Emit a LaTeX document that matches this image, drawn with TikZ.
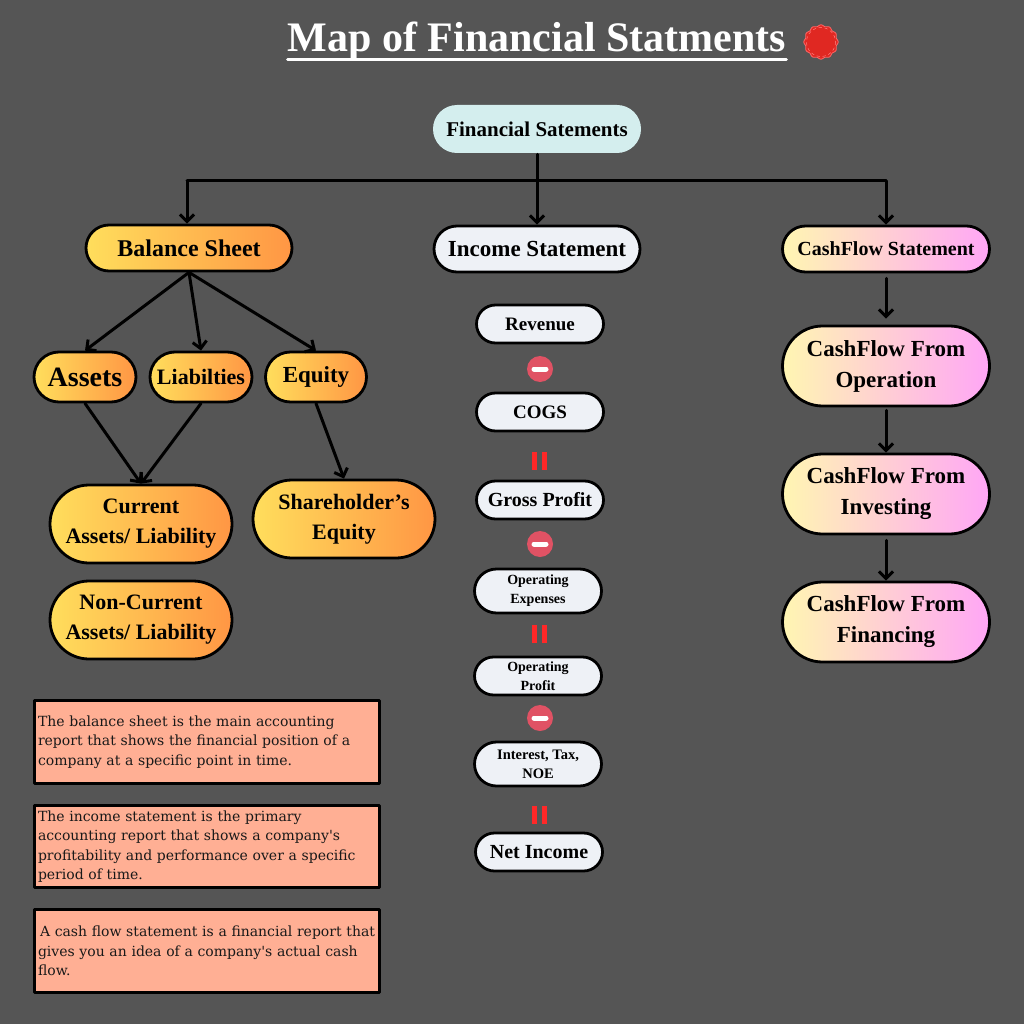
\documentclass[tikz,border=0pt]{standalone}
\usepackage{fontspec}
\setmainfont{Liberation Serif}
\newfontfamily\notefont{DejaVu Serif}
\usetikzlibrary{arrows.meta}
\definecolor{bggray}{RGB}{85,85,85}
\definecolor{rootcyan}{RGB}{212,238,238}
\definecolor{bsyellow}{RGB}{255,222,92}
\definecolor{bsorange}{RGB}{255,150,68}
\definecolor{islight}{RGB}{238,241,246}
\definecolor{cfyellow}{RGB}{255,246,178}
\definecolor{cfpink}{RGB}{255,166,246}
\definecolor{notesalmon}{RGB}{255,175,148}
\definecolor{minusred}{RGB}{224,82,100}
\definecolor{equalred}{RGB}{255,40,40}
\definecolor{badgered}{RGB}{224,40,34}

\begin{document}
\begin{tikzpicture}[line cap=round,line join=round, x=1pt,y=-1pt,
  pill/.style={draw=black, line width=2.8pt, align=center, inner sep=0pt, font=\bfseries},
  small/.style={minimum height=46, rounded corners=23},
  tall/.style={minimum height=78, rounded corners=39},
  isbox/.style={pill, fill=islight, minimum width=127, minimum height=38, rounded corners=19},
  bsfill/.style={left color=bsyellow, right color=bsorange},
  cffill/.style={left color=cfyellow, right color=cfpink},
  note/.style={draw=black, line width=3pt, fill=notesalmon, minimum width=345, minimum height=83, anchor=north west, inner sep=3.5pt, text width=338, align=left, font=\notefont\fontsize{14}{19.5}\selectfont, text=black!90},
  conn/.style={line width=3pt, black},
  arr/.style={conn, -{Straight Barb[length=7pt, width=14pt]}}]
\useasboundingbox (0,0) rectangle (1024,1024);
\fill[bggray] (0,0) rectangle (1024,1024);

\node[inner sep=0pt, text=white, font=\bfseries\fontsize{42}{48}\selectfont] (title) at (537,41) {Map of Financial Statments};
\draw[white, line width=3pt] ([yshift=-8pt]title.base west) -- ([yshift=-8pt]title.base east);
\fill[badgered, draw=red!60!white, line width=0.8pt] plot[domain=0:360, samples=121] ({821+(16.5+0.7*cos(12*\x))*cos(\x)}, {42+(16.5+0.7*cos(12*\x))*sin(\x)}) -- cycle;
\draw[red!50!white, line width=0.5pt, dashed] (821,42) circle (14.5);

\node[pill, draw=none, fill=rootcyan, minimum width=208, minimum height=48, rounded corners=24, font=\bfseries\fontsize{21}{24}\selectfont] (root) at (537,129) {Financial Satements};

\node[pill, small, bsfill, minimum width=206, font=\bfseries\fontsize{24}{26}\selectfont] (bs) at (189,248) {Balance Sheet};
\node[pill, small, fill=islight, minimum width=206, font=\bfseries\fontsize{23}{26}\selectfont] (inc) at (537,249) {Income Statement};
\node[pill, small, cffill, minimum width=207, font=\bfseries\fontsize{20}{24}\selectfont] (cfs) at (886,249) {CashFlow Statement};

\node[pill, bsfill, minimum width=102, minimum height=50, rounded corners=25, font=\bfseries\fontsize{28}{30}\selectfont] (assets) at (85,377) {Assets};
\node[pill, bsfill, minimum width=102, minimum height=50, rounded corners=25, font=\bfseries\fontsize{22}{26}\selectfont] (liab) at (201,377) {Liabilties};
\node[pill, bsfill, minimum width=101, minimum height=50, rounded corners=25, font=\bfseries\fontsize{23}{26}\selectfont] (equity) at (316,377) {Equity};

\node[pill, tall, bsfill, minimum width=182, font=\bfseries\fontsize{22}{30}\selectfont] (curr) at (141,524) {Current\\Assets/ Liability};
\node[pill, tall, bsfill, minimum width=182, font=\bfseries\fontsize{22}{30}\selectfont] (share) at (344,519) {Shareholder's\\Equity};
\node[pill, tall, bsfill, minimum width=182, font=\bfseries\fontsize{22}{30}\selectfont] (noncurr) at (141,620) {Non-Current\\Assets/ Liability};

\node[isbox, font=\bfseries\fontsize{19}{22}\selectfont] (rev) at (540,324) {Revenue};
\node[isbox, font=\bfseries\fontsize{19}{22}\selectfont] (cogs) at (540,412) {COGS};
\node[isbox, font=\bfseries\fontsize{20}{22}\selectfont] (gross) at (540,500) {Gross Profit};
\node[isbox, minimum height=44, rounded corners=22, font=\bfseries\fontsize{14}{19}\selectfont] (opex) at (538,591) {Operating\\Expenses};
\node[isbox, font=\bfseries\fontsize{14}{19}\selectfont] (opprofit) at (538,676) {Operating\\Profit};
\node[isbox, minimum height=44, rounded corners=22, font=\bfseries\fontsize{14.5}{19}\selectfont] (itn) at (538,764) {Interest, Tax,\\NOE};
\node[isbox, font=\bfseries\fontsize{20}{22}\selectfont] (net) at (539,852) {Net Income};

\foreach \y in {369,544,718} {
  \fill[minusred] (540,\y) circle (13);
  \draw[white, line width=5pt] (534,\y) -- (546,\y);
}
\foreach \y in {461,634,815} {
  \fill[equalred] (532,\y-9) rectangle (537,\y+9);
  \fill[equalred] (542,\y-9) rectangle (547,\y+9);
}

\node[pill, tall, cffill, minimum width=207, minimum height=80, rounded corners=40, font=\bfseries\fontsize{23}{31}\selectfont] (cfo) at (886,366) {CashFlow From\\Operation};
\node[pill, tall, cffill, minimum width=207, minimum height=80, rounded corners=40, font=\bfseries\fontsize{23}{31}\selectfont] (cfi) at (886,494) {CashFlow From\\Investing};
\node[pill, tall, cffill, minimum width=207, minimum height=80, rounded corners=40, font=\bfseries\fontsize{23}{31}\selectfont] (cff) at (886,622) {CashFlow From\\Financing};

\node[note] (bsnote) at (33,699) {The balance sheet is the main accounting\\report that shows the financial position of a\\company at a specific point in time.};
\node[note, minimum height=82] (incnote) at (33,804) {The income statement is the primary\\accounting report that shows a company's\\profitability and performance over a specific\\period of time.};
\node[note] (cfnote) at (33,908) {\hspace{2pt}A cash flow statement is a financial report that\\gives you an idea of a company's actual cash\\flow.};

\coordinate (hleft) at (187,181);
\coordinate (hright) at (886,181);
\draw[conn] (hleft) -- (hright);
\draw[arr] (root) -- (inc);
\draw[arr] (hleft) -- (hleft |- bs.north);
\draw[arr] (hright) -- (hright |- cfs.north);
\draw[arr] (bs.south) -- (assets.north);
\draw[arr] (bs.south) -- (liab.north);
\draw[arr] (bs.south) -- (equity.north);
\draw[arr] (assets.south) -- (curr.north);
\draw[arr] (liab.south) -- (curr.north);
\draw[arr] (equity.south) -- (share.north);
\draw[arr, shorten <=5pt, shorten >=6pt] (cfs) -- (cfo);
\draw[arr, shorten <=3pt] (cfo) -- (cfi);
\draw[arr, shorten <=5pt] (cfi) -- (cff);
\end{tikzpicture}
\end{document}
